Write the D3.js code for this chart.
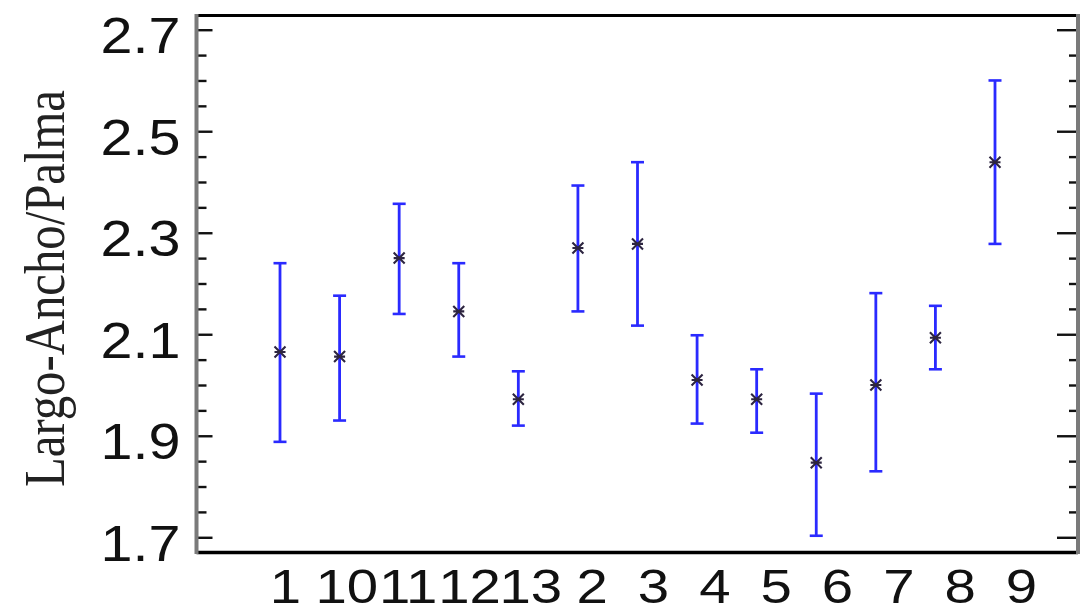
<!DOCTYPE html>
<html>
<head>
<meta charset="utf-8">
<script src="https://cdn.jsdelivr.net/npm/d3@7"></script>
<style>
  html, body { margin: 0; padding: 0; background: #fff; }
  svg { display: block; }
</style>
</head>
<body>
<svg id="chart" width="1080" height="615"></svg>
<script>
// Group labels, in the order they appear along the axis
const categories = ["1", "10", "11", "12", "13", "2", "3", "4", "5", "6", "7", "8", "9"];
// Group means and interval limits for Largo-Ancho/Palma
const means = [2.065, 2.056, 2.250, 2.145, 1.972, 2.270, 2.278, 2.010, 1.972, 1.847, 2.000, 2.093, 2.439];
const lower = [1.888, 1.930, 2.140, 2.056, 1.920, 2.145, 2.117, 1.924, 1.906, 1.703, 1.830, 2.031, 2.278];
const upper = [2.240, 2.176, 2.357, 2.240, 2.027, 2.393, 2.439, 2.098, 2.031, 1.983, 2.181, 2.156, 2.600];
// Labelled values on the vertical axis
const yTickLabels = ["1.7", "1.9", "2.1", "2.3", "2.5", "2.7"];
const yTitle = "Largo-Ancho/Palma";

const svg = d3.select("#chart");

const frame = { left: 196.5, right: 1078, top: 15.5, bottom: 552.5 };

const y = d3.scaleLinear().domain([1.67, 2.728]).range([frame.bottom, frame.top]);
const x = d3.scalePoint().domain(categories).range([280, 995]);
const xLabel = d3.scalePoint().domain(categories).range([285, 1021]);

const majorVals = yTickLabels.map(Number);
const isMajor = v => majorVals.some(m => Math.abs(m - v) < 1e-6);
const allTicks = d3.range(0, 21).map(i => +(1.7 + i * 0.05).toFixed(2));

// Left axis: inward ticks, labels only at the major values
const leftAxis = d3.axisLeft(y)
  .tickValues(allTicks)
  .tickSizeInner(-10)
  .tickSizeOuter(0)
  .tickPadding(0)
  .tickFormat(d => isMajor(d) ? yTickLabels[majorVals.findIndex(m => Math.abs(m - d) < 1e-6)] : "");

const gLeft = svg.append("g")
  .attr("transform", `translate(${frame.left},0)`)
  .call(leftAxis);
gLeft.select(".domain").remove();
gLeft.selectAll(".tick line")
  .attr("x2", d => isMajor(d) ? 16 : 10)
  .attr("stroke", "#111")
  .attr("stroke-width", 2.4);
gLeft.selectAll(".tick text")
  .attr("x", -16 / 1.15)
  .attr("dy", "0.46em")
  .attr("transform", "scale(1.15,1)")
  .attr("text-anchor", "end")
  .style("font-family", "'Liberation Sans', Arial, sans-serif")
  .style("font-size", "50px")
  .attr("fill", "#111");

// Right axis: inward ticks, no labels
const rightAxis = d3.axisRight(y)
  .tickValues(allTicks)
  .tickSizeInner(-9)
  .tickSizeOuter(0)
  .tickFormat("");
const gRight = svg.append("g")
  .attr("transform", `translate(${frame.right},0)`)
  .call(rightAxis);
gRight.select(".domain").remove();
gRight.selectAll(".tick line")
  .attr("x2", d => isMajor(d) ? -21 : -9)
  .attr("stroke", "#111")
  .attr("stroke-width", 2.4);

// Plot frame
svg.append("line")
  .attr("x1", frame.left).attr("x2", frame.right)
  .attr("y1", frame.top).attr("y2", frame.top)
  .attr("stroke", "#000").attr("stroke-width", 3);
svg.append("line")
  .attr("x1", frame.left).attr("x2", frame.right)
  .attr("y1", frame.bottom).attr("y2", frame.bottom)
  .attr("stroke", "#000").attr("stroke-width", 3.5);
svg.append("line")
  .attr("x1", frame.left).attr("x2", frame.left)
  .attr("y1", frame.top - 1.5).attr("y2", frame.bottom + 1.5)
  .attr("stroke", "#7a7a7a").attr("stroke-width", 4);
svg.append("line")
  .attr("x1", frame.right).attr("x2", frame.right)
  .attr("y1", frame.top - 1.5).attr("y2", frame.bottom + 1.5)
  .attr("stroke", "#7a7a7a").attr("stroke-width", 4);

// Bottom axis labels
const bottomAxis = d3.axisBottom(xLabel).tickSize(0).tickPadding(0);
const gBottom = svg.append("g")
  .attr("transform", `translate(0,${frame.bottom})`)
  .call(bottomAxis);
gBottom.select(".domain").remove();
gBottom.selectAll(".tick text")
  .attr("y", 51)
  .attr("dy", 0)
  .attr("transform", "scale(1.15,1)")
  .style("font-family", "'Liberation Sans', Arial, sans-serif")
  .style("font-size", "49px")
  .attr("fill", "#111");

// Axis title
svg.append("text")
  .attr("transform", "translate(64,288.5) rotate(-90)")
  .attr("text-anchor", "middle")
  .attr("textLength", 397)
  .attr("lengthAdjust", "spacingAndGlyphs")
  .style("font-family", "'Liberation Serif', 'Times New Roman', serif")
  .style("font-size", "57px")
  .attr("fill", "#222")
  .text(yTitle);

// Interval bars with caps
const rows = categories.map((c, i) => ({ c, mean: means[i], lo: lower[i], hi: upper[i] }));
const barColor = "#2a2aff";
const capHalf = 6.5;

const bars = svg.append("g").selectAll("g").data(rows).join("g");
bars.append("line")
  .attr("x1", d => x(d.c)).attr("x2", d => x(d.c))
  .attr("y1", d => y(d.lo)).attr("y2", d => y(d.hi))
  .attr("stroke", barColor).attr("stroke-width", 2.8);
bars.append("line")
  .attr("x1", d => x(d.c) - capHalf).attr("x2", d => x(d.c) + capHalf)
  .attr("y1", d => y(d.hi)).attr("y2", d => y(d.hi))
  .attr("stroke", barColor).attr("stroke-width", 2.6);
bars.append("line")
  .attr("x1", d => x(d.c) - capHalf).attr("x2", d => x(d.c) + capHalf)
  .attr("y1", d => y(d.lo)).attr("y2", d => y(d.lo))
  .attr("stroke", barColor).attr("stroke-width", 2.6);

// Mean markers (small crosses)
const m = 5.5;
bars.append("path")
  .attr("d", d => {
    const cx = x(d.c), cy = y(d.mean);
    return `M${cx - m},${cy - m}L${cx + m},${cy + m}M${cx - m},${cy + m}L${cx + m},${cy - m}M${cx - m},${cy}L${cx + m},${cy}`;
  })
  .attr("stroke", "#2d2540")
  .attr("stroke-width", 2.1)
  .attr("fill", "none");
</script>
</body>
</html>
